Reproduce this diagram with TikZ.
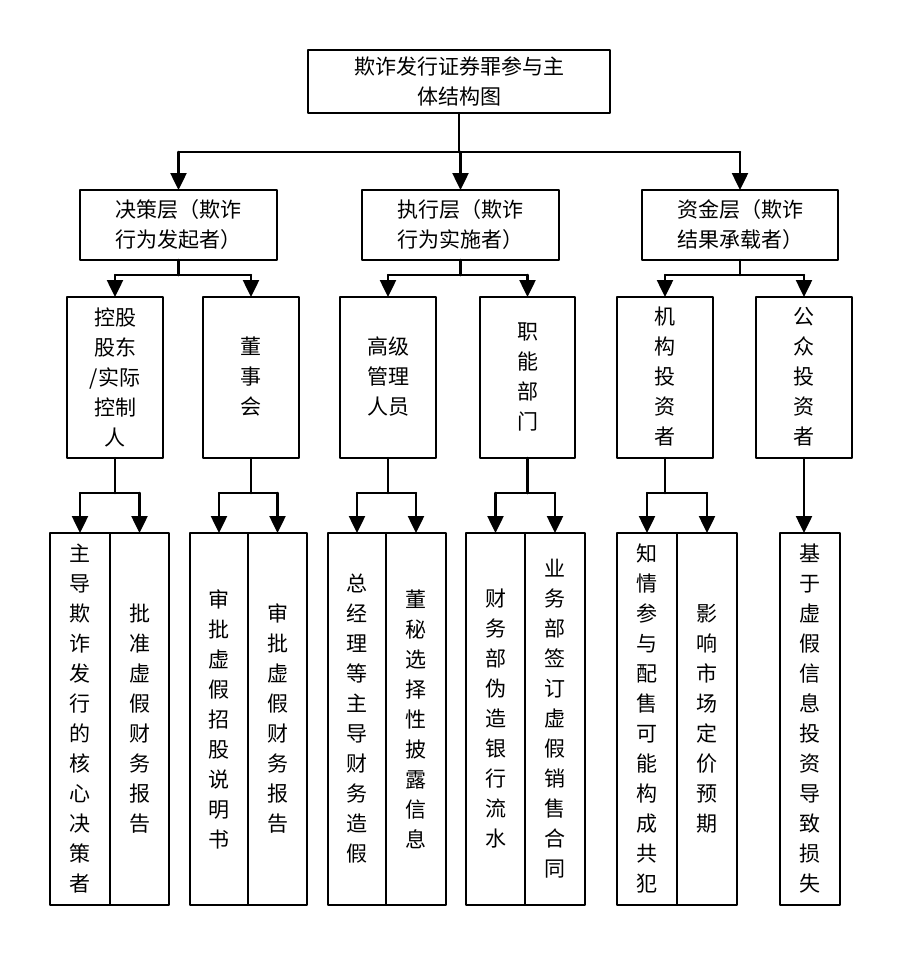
\documentclass[tikz,border=0pt]{standalone}
\usepackage{fontspec}
\setmainfont{Noto Sans CJK SC}
\usetikzlibrary{arrows.meta}
\begin{document}
\begin{tikzpicture}[
	x=1pt, y=-1pt,
	line cap=round,
	line join=round,
	>={Triangle[length=17pt,width=16pt]},
	every node/.style={align=center, font=\fontsize{21}{30}\selectfont},
	box/.style={draw, line width=2.5pt, inner sep=0pt},
	link/.style={line width=2.5pt}
	]
	\useasboundingbox (0,0) rectangle (913,954);
	\draw[box] (308,50) rectangle (610,113);
	\node (root) at (459,81) {欺诈发行证券罪参与主\\体结构图};
	\foreach \nm/\xa/\xb/\txt in {juece/80/277/{决策层（欺诈\\行为发起者）},
		zhixing/362/559/{执行层（欺诈\\行为实施者）},
		zijin/642/838/{资金层（欺诈\\结果承载者）}}{
		\draw[box] (\xa,190) rectangle (\xb,260);
		\node (\nm) at ({(\xa+\xb)/2},225) {\txt};
	}
	\foreach \nm/\xa/\xb/\txt in {kong/67/163/{控股\\股东\\/实际\\控制\\人},
		dong/203/299/{董\\事\\会},
		gao/340/436/{高级\\管理\\人员},
		zhi/480/575/{职\\能\\部\\门},
		jigou/617/713/{机\\构\\投\\资\\者},
		gong/756/852/{公\\众\\投\\资\\者}}{
		\draw[box] (\xa,297) rectangle (\xb,458);
		\node (\nm) at ({(\xa+\xb)/2},377) {\txt};
	}
	\foreach \nm/\xa/\xb/\txt in {a/50/110/{主\\导\\欺\\诈\\发\\行\\的\\核\\心\\决\\策\\者},
		b/110/169/{批\\准\\虚\\假\\财\\务\\报\\告},
		c/190/248/{审\\批\\虚\\假\\招\\股\\说\\明\\书},
		d/248/307/{审\\批\\虚\\假\\财\\务\\报\\告},
		e/328/386/{总\\经\\理\\等\\主\\导\\财\\务\\造\\假},
		f/386/446/{董\\秘\\选\\择\\性\\披\\露\\信\\息},
		g/466/525/{财\\务\\部\\伪\\造\\银\\行\\流\\水},
		h/525/585/{业\\务\\部\\签\\订\\虚\\假\\销\\售\\合\\同},
		i/617/677/{知\\情\\参\\与\\配\\售\\可\\能\\构\\成\\共\\犯},
		j/677/737/{影\\响\\市\\场\\定\\价\\预\\期},
		k/780/840/{基\\于\\虚\\假\\信\\息\\投\\资\\导\\致\\损\\失}}{
		\draw[box] (\xa,533) rectangle (\xb,905);
		\node (act\nm) at ({(\xa+\xb)/2},719) {\txt};
	}
	% root to layers
	\draw[link] (root|-0,113) -- (root|-0,152);
	\draw[link] (juece|-0,152) -- (zijin|-0,152);
	\foreach \dst in {juece,zhixing,zijin}{\draw[link,->] (\dst|-0,152) -- (\dst|-0,190);}
	% layers to roles
	\foreach \src/\l/\r in {juece/kong/dong,zhixing/gao/zhi,zijin/jigou/gong}{
		\draw[link] (\src|-0,260) -- (\src|-0,275);
		\draw[link] (\l|-0,275) -- (\r|-0,275);
		\draw[link,->] (\l|-0,275) -- (\l|-0,297);
		\draw[link,->] (\r|-0,275) -- (\r|-0,297);
	}
	% roles to actions
	\foreach \src/\l/\r in {kong/a/b,dong/c/d,gao/e/f,zhi/g/h,jigou/i/j}{
		\draw[link] (\src|-0,458) -- (\src|-0,493);
		\draw[link] (act\l|-0,493) -- (act\r|-0,493);
		\draw[link,->] (act\l|-0,493) -- (act\l|-0,533);
		\draw[link,->] (act\r|-0,493) -- (act\r|-0,533);
	}
	\draw[link,->] (gong|-0,458) -- (gong|-0,533);
\end{tikzpicture}
\end{document}
